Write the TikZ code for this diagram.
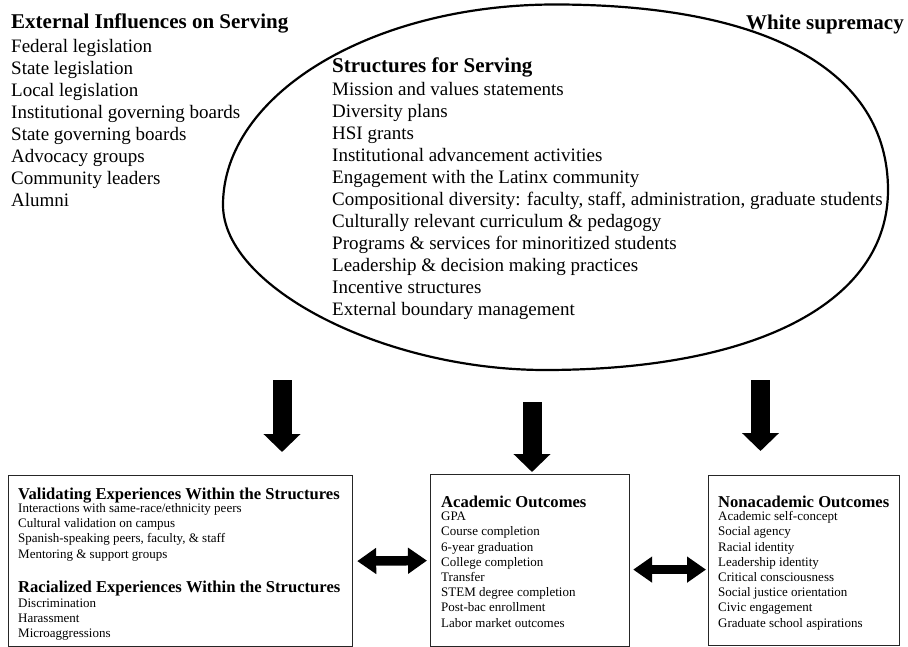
\documentclass[tikz,border=0pt]{standalone}
\usepackage{fontspec}
\setmainfont{Liberation Serif}
\usetikzlibrary{arrows.meta}
\begin{document}
\begin{tikzpicture}[x=1pt,y=-1pt,
  bigtitle/.style={font=\fontsize{21}{24}\selectfont\bfseries, anchor=base west, inner sep=0pt},
  bigitem/.style={font=\fontsize{19}{22}\selectfont, anchor=base west, inner sep=0pt},
  boxtitle/.style={font=\fontsize{16.6}{19}\selectfont\bfseries, anchor=base west, inner sep=0pt},
  boxitem/.style={font=\fontsize{13}{15}\selectfont, anchor=base west, inner sep=0pt},
  panel/.style={draw=black!85, line width=1.2pt, anchor=north west, inner sep=0pt},
  outline/.style={line width=2.2pt, line join=round},
  downarrow/.style={line width=19pt, -{Triangle[length=18pt,width=36pt]}},
  bothways/.style={line width=9.5pt, {Triangle[length=19pt,width=25pt]}-{Triangle[length=19pt,width=25pt]}},
]
\useasboundingbox (0,0) rectangle (908,647);

% hand-drawn ellipse
\draw[outline] (555,4.5) .. controls (768.1,4.5) and (888,71.3) .. (888,190)
  .. controls (888,301.6) and (757.7,370) .. (545,370)
  .. controls (384,370) and (223,287.5) .. (223,205)
  .. controls (223,94.3) and (371.7,4.5) .. (555,4.5) -- cycle;

% external influences
\node[bigtitle] (exttitle) at (11,29) {External Influences on Serving};
\foreach \t [count=\i from 0] in {Federal legislation, State legislation, Local legislation, Institutional governing boards, State governing boards, Advocacy groups, Community leaders, Alumni}
  \node[bigitem] (ext\i) at (11,{53+21.9*\i}) {\t};

\node[bigtitle, anchor=base east] (ws) at (904,30) {White supremacy};

% structures
\node[bigtitle] (strtitle) at (332,73) {Structures for Serving};
\foreach \t [count=\i from 0] in {Mission and values statements, Diversity plans, HSI grants, Institutional advancement activities, Engagement with the Latinx community, {Compositional diversity: faculty, staff, administration, graduate students}, Culturally relevant curriculum \& pedagogy, Programs \& services for minoritized students, Leadership \& decision making practices, Incentive structures, External boundary management}
  \node[bigitem] (str\i) at (332,{96+21.9*\i}) {\t};

% down arrows
\coordinate (d1s) at (282,380); \coordinate (d1e) at (282,452);
\coordinate (d2s) at (532,402); \coordinate (d2e) at (532,472);
\coordinate (d3s) at (760.5,380); \coordinate (d3e) at (760.5,451);
\draw[downarrow] (d1s) -- (d1e);
\draw[downarrow] (d2s) -- (d2e);
\draw[downarrow] (d3s) -- (d3e);

% boxes
\node[panel, minimum width=344pt, minimum height=171pt] (lbox) at (8,475) {};
\node[panel, minimum width=199pt, minimum height=172pt] (mbox) at (430,474) {};
\node[panel, minimum width=191pt, minimum height=170pt] (rbox) at (708,475) {};

% left box text
\node[boxtitle] (valtitle) at (18,499) {Validating Experiences Within the Structures};
\foreach \t [count=\i from 0] in {Interactions with same-race/ethnicity peers, Cultural validation on campus, {Spanish-speaking peers, faculty, \& staff}, Mentoring \& support groups}
  \node[boxitem] (val\i) at (18,{512.5+15.2*\i}) {\t};
\node[boxtitle] (ractitle) at (18,592) {Racialized Experiences Within the Structures};
\foreach \t [count=\i from 0] in {Discrimination, Harassment, Microaggressions}
  \node[boxitem] (rac\i) at (18,{607.2+15.2*\i}) {\t};

% middle box text
\node[boxtitle] (acatitle) at (441,507) {Academic Outcomes};
\foreach \t [count=\i from 0] in {GPA, Course completion, 6-year graduation, College completion, Transfer, STEM degree completion, Post-bac enrollment, Labor market outcomes}
  \node[boxitem] (aca\i) at (441,{520.6+15.2*\i}) {\t};

% right box text
\node[boxtitle] (nontitle) at (718,507) {Nonacademic Outcomes};
\foreach \t [count=\i from 0] in {Academic self-concept, Social agency, Racial identity, Leadership identity, Critical consciousness, Social justice orientation, Civic engagement, Graduate school aspirations}
  \node[boxitem] (non\i) at (718,{520.6+15.2*\i}) {\t};

% double arrows
\draw[bothways] ([xshift=4pt]lbox.east) -- ([xshift=-3pt]mbox.west);
\draw[bothways] ([xshift=3pt,yshift=-9pt]mbox.east) -- ([xshift=-2pt,yshift=-9pt]rbox.west);
\end{tikzpicture}
\end{document}
